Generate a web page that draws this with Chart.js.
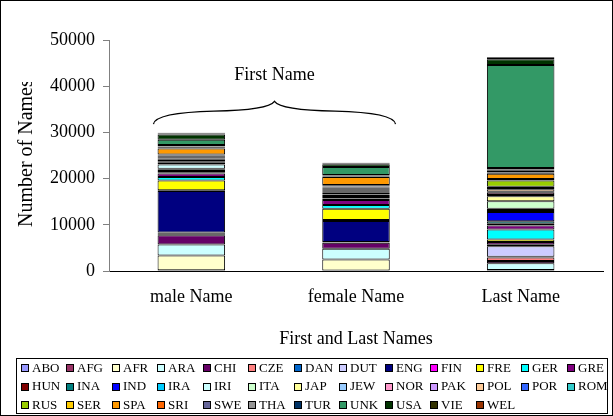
<!DOCTYPE html>
<html>
<head>
<meta charset="utf-8">
<script src="https://cdn.jsdelivr.net/npm/chart.js@4/dist/chart.umd.min.js"></script>
<style>
  html, body { margin: 0; padding: 0; background: #fff; }
  #wrap { width: 613px; height: 416px; position: relative; }
</style>
</head>
<body>
<div id="wrap"><canvas id="c" width="613" height="416"></canvas></div>
<script>
// Name counts by origin, stacked per column
const categories = ['male Name', 'female Name', 'Last Name'];

const origins = ['ABO','AFG','AFR','ARA','CHI','CZE','DAN','DUT','ENG','FIN','FRE','GER','GRE',
                 'HUN','INA','IND','IRA','IRI','ITA','JAP','JEW','NOR','PAK','POL','POR','ROM',
                 'RUS','SER','SPA','SRI','SWE','THA','TUR','UNK','USA','VIE','WEL'];

const originColors = ['#9999FF','#993366','#FFFFCC','#CCFFFF','#660066','#FF8080','#0066CC','#CCCCFF','#000080','#FF00FF','#FFFF00','#00FFFF','#800080',
                      '#800000','#008080','#0000FF','#00CCFF','#CCFFFF','#CCFFCC','#FFFF99','#99CCFF','#FF99CC','#CC99FF','#FFCC99','#3366FF','#33CCCC',
                      '#99CC00','#FFCC00','#FF9900','#FF6600','#666699','#969696','#003366','#339966','#003300','#333300','#993300'];

const maleCounts   = [50,100,3200,2400,2000,100,200,270,9000,180,2100,750,780,
                      250,250,300,200,940,350,350,250,150,200,150,200,150,
                      150,210,1290,150,200,150,240,1140,1150,200,170];
const femaleCounts = [50,80,2350,2320,1290,50,60,60,4580,200,2420,800,1120,
                      300,350,400,150,380,200,200,310,100,150,150,150,150,
                      100,150,1730,100,100,100,130,1730,600,180,150];
const lastCounts   = [80,60,100,1450,450,800,150,2270,450,450,550,2150,870,
                      400,530,2030,400,310,1580,1080,300,500,200,510,300,280,
                      1360,300,1150,250,400,250,330,22310,1240,250,180];

const yTicks = [0, 10000, 20000, 30000, 40000, 50000];

const axisTitleX = 'First and Last Names';
const axisTitleY = 'Number of Names';
const groupLabel = 'First Name';

const SERIF = '"Liberation Serif", "Times New Roman", serif';

const datasets = origins.map((o, i) => ({
  label: o,
  data: [maleCounts[i], femaleCounts[i], lastCounts[i]],
  backgroundColor: originColors[i],
  borderColor: '#000000',
  borderWidth: 1,
  borderSkipped: false
}));

// Frame, axis titles, brace over the first-name columns and the boxed legend
const decorations = {
  id: 'decorations',
  afterDraw(chart) {
    const { ctx, chartArea: ca, scales: { x, y } } = chart;
    ctx.save();

    // outer frame
    ctx.strokeStyle = '#000';
    ctx.lineWidth = 1;
    ctx.strokeRect(0.5, 0.5, chart.width - 1, chart.height - 1);

    // y-axis title, rotated, cut off where the space runs out
    ctx.save();
    ctx.beginPath();
    ctx.rect(0, 82, 100, 300);
    ctx.clip();
    ctx.translate(27, 227);
    ctx.rotate(-Math.PI / 2);
    ctx.font = '20px ' + SERIF;
    ctx.fillStyle = '#000';
    ctx.textAlign = 'left';
    ctx.textBaseline = 'middle';
    ctx.fillText(axisTitleY, 0, 0);
    ctx.restore();

    // x-axis title
    ctx.font = '18px ' + SERIF;
    ctx.fillStyle = '#000';
    ctx.textAlign = 'center';
    ctx.textBaseline = 'middle';
    ctx.fillText(axisTitleX, (ca.left + ca.right) / 2, 339);

    // curly brace spanning the two first-name columns
    const x0 = x.getPixelForValue(0), x1 = x.getPixelForValue(1);
    const step = x1 - x0;
    const xl = x0 - step * 0.23, xr = x1 + step * 0.24;
    const xm = (xl + xr) / 2;
    const yEnd = y.getPixelForValue(31800);
    const yTip = y.getPixelForValue(36700);
    const yMid = yEnd - (yEnd - yTip) * 0.57;
    const w = xr - xl;
    ctx.beginPath();
    ctx.moveTo(xl, yEnd);
    ctx.quadraticCurveTo(xl + 2, yMid + 1.5, xl + w * 0.25, yMid);
    ctx.quadraticCurveTo(xm - 6, yMid - 1, xm, yTip);
    ctx.quadraticCurveTo(xm + 6, yMid - 1, xr - w * 0.25, yMid);
    ctx.quadraticCurveTo(xr - 2, yMid + 1.5, xr, yEnd);
    ctx.lineWidth = 1.3;
    ctx.strokeStyle = '#000';
    ctx.stroke();
    ctx.font = '18px ' + SERIF;
    ctx.fillText(groupLabel, xm, y.getPixelForValue(42300));

    // legend box
    const box = { left: 16, top: 358, right: 607, bottom: 413 };
    ctx.lineWidth = 1;
    ctx.strokeStyle = '#000';
    ctx.strokeRect(box.left + 0.5, box.top + 0.5, box.right - box.left, box.bottom - box.top);
    const cols = 13;
    const colW = (box.right - box.left) / cols;
    const rowY = [368, 386.5, 405];
    ctx.font = '13px ' + SERIF;
    ctx.textAlign = 'left';
    ctx.textBaseline = 'middle';
    chart.data.datasets.forEach((ds, i) => {
      const col = i % cols, row = Math.floor(i / cols);
      const sx = Math.round(box.left + 5 + col * colW);
      const sy = Math.round(rowY[row] - 4);
      ctx.fillStyle = ds.backgroundColor;
      ctx.fillRect(sx, sy, 7, 7);
      ctx.strokeStyle = '#000';
      ctx.strokeRect(sx + 0.5, sy + 0.5, 7, 7);
      ctx.fillStyle = '#000';
      ctx.fillText(ds.label, sx + 11, rowY[row] + 0.5);
    });

    ctx.restore();
  }
};

new Chart(document.getElementById('c'), {
  type: 'bar',
  data: { labels: categories, datasets },
  options: {
    responsive: false,
    animation: false,
    devicePixelRatio: 1,
    layout: { padding: { top: 40, right: 10, left: 0, bottom: 0 } },
    plugins: {
      legend: { display: false },
      tooltip: { enabled: false }
    },
    datasets: { bar: { categoryPercentage: 1, barPercentage: 0.41 } },
    scales: {
      x: {
        stacked: true,
        grid: { display: false, drawTicks: false },
        border: { display: true, color: '#000', width: 1 },
        ticks: { color: '#000', font: { family: SERIF, size: 18 }, padding: 15, maxRotation: 0 },
        afterFit(scale) { scale.height = 145; }
      },
      y: {
        stacked: true,
        min: 0,
        max: 50000,
        afterBuildTicks(scale) { scale.ticks = yTicks.map(v => ({ value: v })); },
        grid: { display: true, drawOnChartArea: false, drawTicks: true, tickLength: 6, color: '#808080' },
        border: { display: true, color: '#808080', width: 1 },
        ticks: {
          color: '#000',
          font: { family: SERIF, size: 18 },
          padding: 8,
          callback: v => String(v)
        },
        afterFit(scale) { scale.width = 109; }
      }
    }
  },
  plugins: [decorations]
});
</script>
</body>
</html>
